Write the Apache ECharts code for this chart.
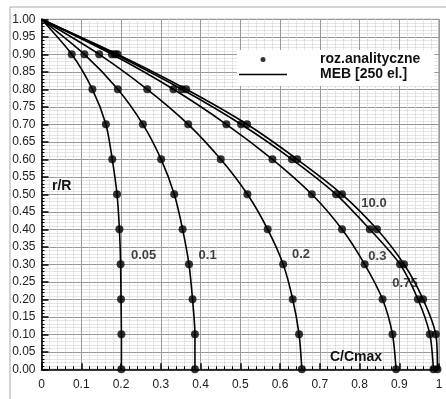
<!DOCTYPE html>
<html>
<head>
<meta charset="utf-8">
<title>r/R - C/Cmax</title>
<script src="https://cdn.jsdelivr.net/npm/echarts@6/dist/echarts.min.js"></script>
<style>
  html, body { margin: 0; padding: 0; background: #fff; }
  #chart { width: 446px; height: 399px; }
</style>
</head>
<body>
<div id="chart"></div>
<script>
// promien bezwymiarowy r/R dla punktow analitycznych
var radius = [0.9, 0.8, 0.7, 0.6, 0.5, 0.4, 0.3, 0.2, 0.1, 0.0];

// parametry krzywych (podpisy)
var curveNames = ["0.05", "0.1", "0.2", "0.3", "0.75", "10.0"];

// C/Cmax, kolejno dla r/R = 0.9 ... 0.0
var c005 = [0.076, 0.128, 0.162, 0.178, 0.190, 0.196, 0.199, 0.200, 0.201, 0.201];
var c01 = [0.108, 0.192, 0.255, 0.301, 0.334, 0.355, 0.371, 0.380, 0.386, 0.386];
var c02 = [0.145, 0.266, 0.369, 0.451, 0.518, 0.569, 0.608, 0.632, 0.648, 0.655];
var c03 = [0.177, 0.332, 0.465, 0.581, 0.680, 0.756, 0.813, 0.858, 0.883, 0.892];
var c075 = [0.185, 0.353, 0.502, 0.630, 0.741, 0.826, 0.902, 0.947, 0.977, 0.986];
var c10 = [0.191, 0.364, 0.517, 0.643, 0.756, 0.844, 0.912, 0.960, 0.992, 0.996];

// punkt brzegowy r/R = 1, C/Cmax = 0 (poczatek linii MEB)
var edgePoint = [0, 1];

// polozenie podpisow krzywych (wsp. wykresu)
var labelX = [0.257, 0.418, 0.653, 0.845, 0.9145, 0.8365];
var labelY = [0.324, 0.324, 0.327, 0.322, 0.244, 0.474];

var xTicks = ["0", "0.1", "0.2", "0.3", "0.4", "0.5", "0.6", "0.7", "0.8", "0.9", "1"];

var allC = [c005, c01, c02, c03, c075, c10];
var font = "'Liberation Sans', Arial, Helvetica, sans-serif";

var myChart = echarts.init(document.getElementById("chart"));

var series = [];
// linie MEB
for (var i = 0; i < allC.length; i++) {
  var lineData = [edgePoint.slice()];
  for (var k = 0; k < radius.length; k++) {
    lineData.push([allC[i][k], radius[k]]);
  }
  series.push({
    name: "MEB [250 el.]",
    type: "line",
    data: lineData,
    symbol: "none",
    smooth: 0.25,
    color: "#000",
    lineStyle: { color: "#000", width: 1.6 },
    z: 3,
    silent: true
  });
}
// punkty analityczne
for (var i = 0; i < allC.length; i++) {
  var pts = [];
  for (var k = 0; k < radius.length; k++) {
    pts.push([allC[i][k], radius[k]]);
  }
  series.push({
    name: "roz.analityczne",
    type: "scatter",
    data: pts,
    symbol: "circle",
    symbolSize: 8,
    color: "#000",
    itemStyle: { color: "#000" },
    z: 4,
    silent: true
  });
}
// podpisy krzywych
var labelData = [];
for (var i = 0; i < curveNames.length; i++) {
  labelData.push({ value: [labelX[i], labelY[i]], name: curveNames[i] });
}
series.push({
  name: "podpisy",
  type: "scatter",
  data: labelData,
  symbolSize: 0,
  silent: true,
  z: 5,
  label: {
    show: true,
    position: "inside",
    formatter: "{b}",
    color: "#111",
    fontFamily: font,
    fontWeight: "bold",
    fontSize: 13
  }
});

var option = {
  animation: false,
  backgroundColor: "#fff",
  grid: {
    left: 41.5,
    right: 7,
    top: 19.3,
    bottom: 29.7,
    show: true,
    borderColor: "#777",
    borderWidth: 1
  },
  legend: {
    data: [
      { name: "roz.analityczne", icon: "circle" },
      // sama linia, bez znacznika w srodku
      { name: "MEB [250 el.]", icon: "path://M0,0H48V1.5H0Z", itemStyle: { color: "#000" } }
    ],
    orient: "vertical",
    left: 237,
    top: 50,
    itemWidth: 48,
    itemHeight: 5,
    itemGap: 0,
    padding: [2, 14, 4, 2],
    backgroundColor: "#fff",
    selectedMode: false,
    textStyle: {
      fontFamily: font,
      fontWeight: "bold",
      fontSize: 14,
      color: "#111",
      lineHeight: 15,
      padding: [0, 0, 0, 28]
    }
  },
  xAxis: {
    type: "value",
    min: 0,
    max: 1,
    interval: 0.1,
    axisLine: { show: true, lineStyle: { color: "#000", width: 1.5 } },
    axisTick: { show: true, inside: true, length: 6, lineStyle: { color: "#000", width: 1.5 } },
    minorTick: { show: true, splitNumber: 5, length: 3, lineStyle: { color: "#000" } },
    axisLabel: {
      margin: 9,
      fontFamily: font,
      fontSize: 12,
      color: "#222",
      formatter: function (v) {
        return xTicks[Math.round(v * 10)];
      }
    },
    splitLine: { show: true, lineStyle: { color: "#999", width: 1 } },
    minorSplitLine: { show: true, lineStyle: { color: "#ccc", type: "dotted", width: 1 } }
  },
  yAxis: {
    type: "value",
    min: 0,
    max: 1,
    interval: 0.05,
    axisLine: { show: true, lineStyle: { color: "#000", width: 1.5 } },
    axisTick: { show: true, inside: true, length: 7, lineStyle: { color: "#000", width: 1.5 } },
    minorTick: { show: true, splitNumber: 5, length: 3, lineStyle: { color: "#000" } },
    axisLabel: {
      margin: 6,
      fontFamily: font,
      fontSize: 12,
      color: "#222",
      formatter: function (v) {
        return v.toFixed(2);
      }
    },
    splitLine: { show: true, lineStyle: { color: "#999", width: 1 } },
    minorSplitLine: { show: true, lineStyle: { color: "#ccc", type: "dotted", width: 1 } }
  },
  graphic: [
    // ramka zewnetrzna
    { type: "line", shape: { x1: 10, y1: 7, x2: 446, y2: 7 }, style: { stroke: "#aaa", lineWidth: 1 } },
    { type: "line", shape: { x1: 10, y1: 7, x2: 10, y2: 399 }, style: { stroke: "#aaa", lineWidth: 1 } },
    // nazwy osi
    {
      type: "text", left: 52, top: 179, z: 10,
      style: { text: "r/R", font: "bold 14px " + font, fill: "#111" }
    },
    {
      type: "text", left: 330, top: 350, z: 10,
      style: { text: "C/Cmax", font: "bold 14px " + font, fill: "#111" }
    }
  ],
  series: series
};

myChart.setOption(option);
window.addEventListener("resize", function () {
  myChart.resize();
});
</script>
</body>
</html>
